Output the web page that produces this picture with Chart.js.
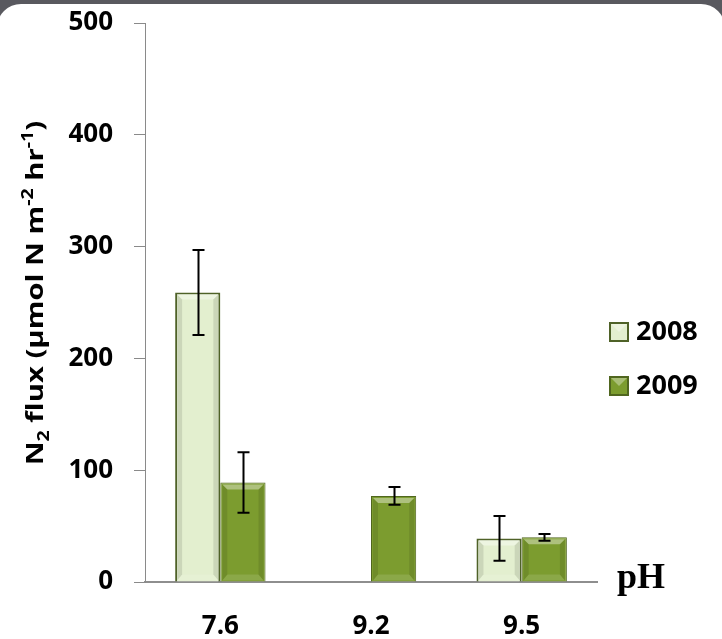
<!DOCTYPE html>
<html>
<head>
<meta charset="utf-8">
<script src="https://cdn.jsdelivr.net/npm/chart.js@4"></script>
<style>
  html, body { margin: 0; padding: 0; }
  body { width: 722px; height: 639px; background: #59595f; position: relative; overflow: hidden; }
  #panel { position: absolute; left: -3px; top: 4px; width: 728px; height: 640px; background: #fff; border-radius: 24px 24px 0 0; }
  #c { position: absolute; left: 0; top: 0; }
</style>
</head>
<body>
<div id="panel"></div>
<canvas id="c" width="722" height="639"></canvas>
<script>
// data
const categories = ['7.6', '9.2', '9.5'];
const seriesNames = ['2008', '2009'];
const values2008 = [259, null, 39];
const values2009 = [89, 77, 40];
const errors2008 = [38, null, 20];
const errors2009 = [27, 8, 3];
const yTicks = [0, 100, 200, 300, 400, 500];

const errors = [errors2008, errors2009];
const FONT = "'Open Sans', 'DejaVu Sans', sans-serif";

// soft bevel look on each bar, like the Excel original
const bevelPlugin = {
    id: 'bevel',
    afterDatasetsDraw(chart) {
        const ctx = chart.ctx;
        chart.data.datasets.forEach((ds, di) => {
            const meta = chart.getDatasetMeta(di);
            meta.data.forEach((bar, i) => {
                if (ds.data[i] == null) return;
                const w = bar.width;
                const l = bar.x - w / 2, r = bar.x + w / 2;
                const t = bar.y, b = bar.base;
                const bv = Math.min(7, (b - t) / 3);
                ctx.save();
                // top
                ctx.fillStyle = 'rgba(255,255,255,0.38)';
                ctx.beginPath();
                ctx.moveTo(l + 2, t + 2); ctx.lineTo(r - 2, t + 2);
                ctx.lineTo(r - bv, t + bv); ctx.lineTo(l + bv, t + bv);
                ctx.closePath(); ctx.fill();
                // sides
                ctx.fillStyle = 'rgba(0,0,0,0.10)';
                ctx.beginPath();
                ctx.moveTo(l + 2, t + 2); ctx.lineTo(l + bv, t + bv);
                ctx.lineTo(l + bv, b - bv); ctx.lineTo(l + 2, b - 1);
                ctx.closePath(); ctx.fill();
                ctx.beginPath();
                ctx.moveTo(r - 2, t + 2); ctx.lineTo(r - bv, t + bv);
                ctx.lineTo(r - bv, b - bv); ctx.lineTo(r - 2, b - 1);
                ctx.closePath(); ctx.fill();
                // bottom
                ctx.fillStyle = 'rgba(255,255,255,0.12)';
                ctx.beginPath();
                ctx.moveTo(l + 2, b - 1); ctx.lineTo(r - 2, b - 1);
                ctx.lineTo(r - bv, b - bv); ctx.lineTo(l + bv, b - bv);
                ctx.closePath(); ctx.fill();
                ctx.restore();
            });
        });
    }
};

// error bars from the error arrays
const errorBarPlugin = {
    id: 'errorBars',
    afterDatasetsDraw(chart) {
        const ctx = chart.ctx;
        const y = chart.scales.y;
        ctx.save();
        ctx.strokeStyle = '#000';
        ctx.lineWidth = 2;
        chart.data.datasets.forEach((ds, di) => {
            const meta = chart.getDatasetMeta(di);
            meta.data.forEach((bar, i) => {
                const v = ds.data[i], e = errors[di][i];
                if (v == null || e == null) return;
                const top = y.getPixelForValue(v + e);
                const bot = y.getPixelForValue(v - e);
                const x = Math.round(bar.x) + 0.5;
                ctx.beginPath();
                ctx.moveTo(x, top); ctx.lineTo(x, bot);
                ctx.moveTo(x - 6, top); ctx.lineTo(x + 6, top);
                ctx.moveTo(x - 6, bot); ctx.lineTo(x + 6, bot);
                ctx.stroke();
            });
        });
        ctx.restore();
    }
};

// axis title with sub/superscripts, legend and the pH label
const decorPlugin = {
    id: 'decor',
    afterDraw(chart) {
        const ctx = chart.ctx;
        const area = chart.chartArea;

        // y title (the original text is stretched along its length)
        const parts = [
            { t: 'N' }, { t: '2', sub: true }, { t: ' flux (µmol N m' },
            { t: '-2', sup: true }, { t: ' hr' }, { t: '-1', sup: true }, { t: ')' }
        ];
        const big = 24, small = 16, stretch = 1.22;
        ctx.save();
        let total = 0;
        parts.forEach(p => {
            ctx.font = `bold ${p.sub || p.sup ? small : big}px ${FONT}`;
            p.w = ctx.measureText(p.t).width;
            total += p.w;
        });
        ctx.translate(43, 293);
        ctx.rotate(-Math.PI / 2);
        ctx.scale(stretch, 1);
        ctx.fillStyle = '#000';
        ctx.textBaseline = 'alphabetic';
        let xx = -total / 2;
        parts.forEach(p => {
            ctx.font = `bold ${p.sub || p.sup ? small : big}px ${FONT}`;
            const dy = p.sub ? 6 : (p.sup ? -10 : 0);
            ctx.fillText(p.t, xx, dy);
            xx += p.w;
        });
        ctx.restore();

        // legend
        const lx = area.right + 12;
        const rows = [332, 386];
        ctx.save();
        chart.data.datasets.forEach((ds, di) => {
            const cy = rows[di];
            const s = 20;
            ctx.fillStyle = ds.backgroundColor;
            ctx.fillRect(lx, cy - s / 2, s, s);
            ctx.strokeStyle = ds.borderColor;
            ctx.lineWidth = 2;
            ctx.strokeRect(lx + 1, cy - s / 2 + 1, s - 2, s - 2);
            ctx.fillStyle = 'rgba(255,255,255,0.35)';
            ctx.beginPath();
            ctx.moveTo(lx + 2, cy - s / 2 + 2); ctx.lineTo(lx + s - 2, cy - s / 2 + 2);
            ctx.lineTo(lx + s / 2, cy); ctx.closePath(); ctx.fill();
            ctx.fillStyle = '#000';
            ctx.font = `bold 27px ${FONT}`;
            ctx.textBaseline = 'middle';
            ctx.fillText(ds.label, lx + 27, cy);
        });
        // pH
        ctx.font = "bold 36px 'Liberation Serif', 'DejaVu Serif', serif";
        ctx.textBaseline = 'alphabetic';
        ctx.fillText('pH', area.right + 20, 588);
        ctx.restore();
    }
};

new Chart(document.getElementById('c'), {
    type: 'bar',
    data: {
        labels: categories,
        datasets: [{
            label: seriesNames[0],
            data: values2008,
            backgroundColor: '#e3efcf',
            borderColor: '#4f6228',
            borderWidth: 2
        }, {
            label: seriesNames[1],
            data: values2009,
            backgroundColor: '#7c9c2f',
            borderColor: '#50661f',
            borderWidth: 1
        }]
    },
    options: {
        responsive: false,
        animation: false,
        devicePixelRatio: 1,
        categoryPercentage: 0.6,
        barPercentage: 1.0,
        layout: { padding: { top: 23, right: 125, left: 0, bottom: 0 } },
        plugins: {
            legend: { display: false },
            tooltip: { enabled: false }
        },
        scales: {
            x: {
                grid: { display: false },
                border: { display: true, color: '#8e8e8e', width: 2 },
                ticks: {
                    color: '#000',
                    font: { family: FONT, size: 26, weight: 'bold' },
                    padding: 21
                },
                afterFit(scale) { scale.height = 57; }
            },
            y: {
                min: 0,
                max: 500,
                afterBuildTicks(scale) { scale.ticks = yTicks.map(v => ({ value: v })); },
                grid: { drawOnChartArea: false, drawTicks: true, tickLength: 11, color: '#8a8a8a' },
                border: { display: true, color: '#8a8a8a', width: 1 },
                ticks: {
                    color: '#000',
                    font: { family: FONT, size: 26, weight: 'bold' },
                    padding: 21
                },
                afterFit(scale) {
                    scale.width = 145;
                    scale.paddingTop = 0;
                    scale.paddingBottom = 0;
                }
            }
        }
    },
    plugins: [bevelPlugin, errorBarPlugin, decorPlugin]
});
</script>
</body>
</html>
